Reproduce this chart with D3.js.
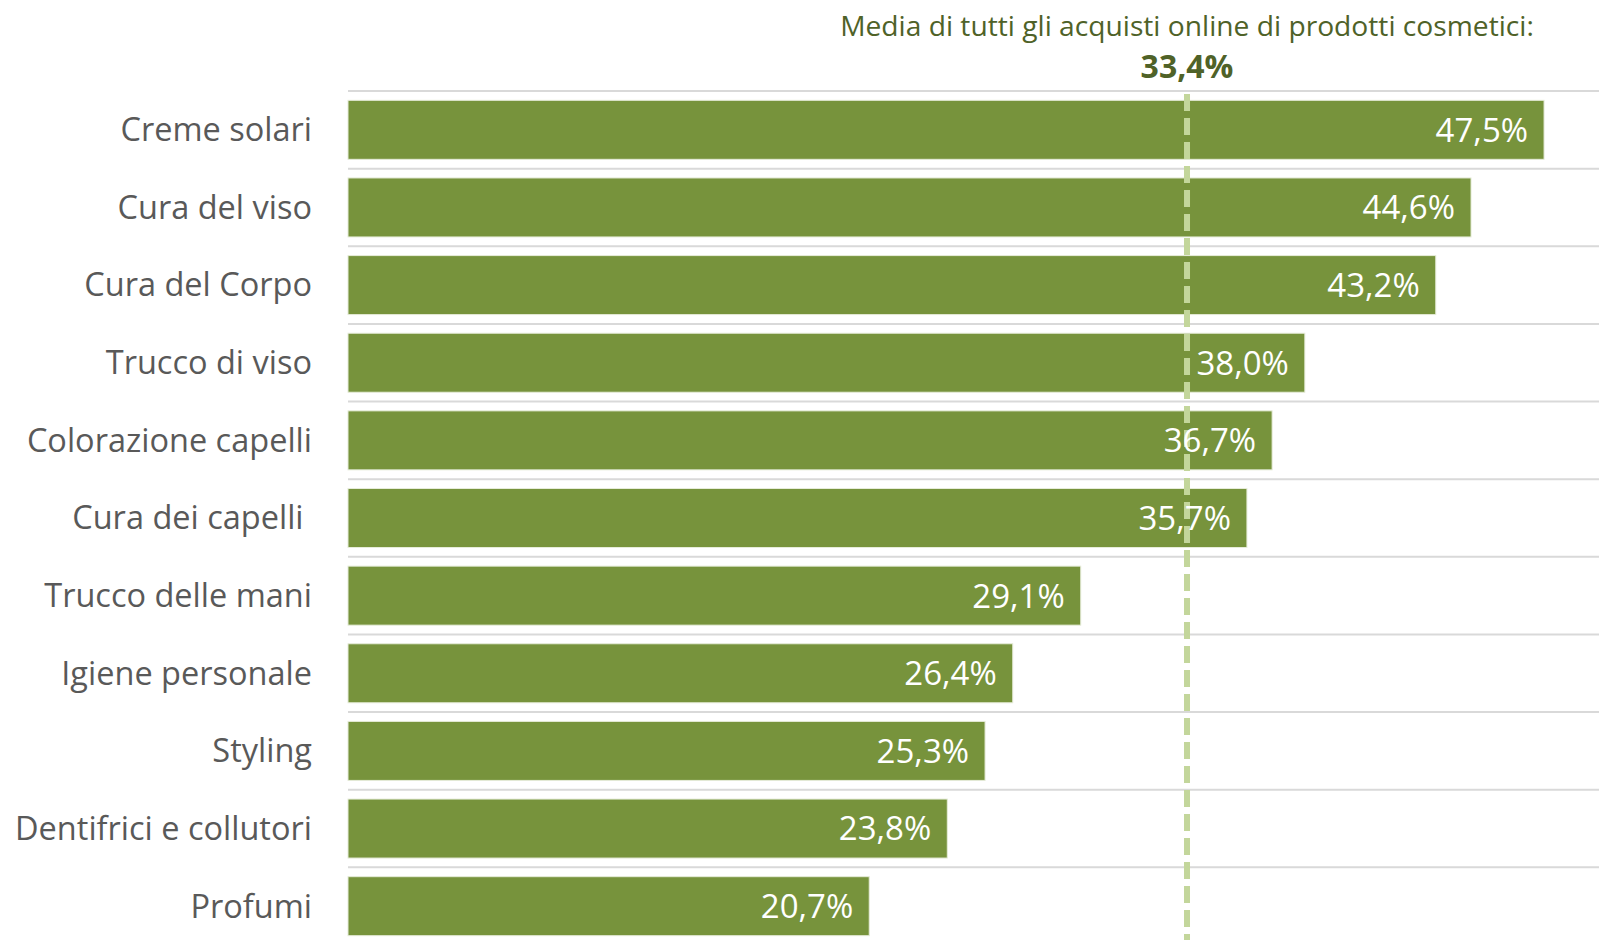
<!DOCTYPE html>
<html>
<head>
<meta charset="utf-8">
<script src="https://cdn.jsdelivr.net/npm/d3@7"></script>
<style>
  html, body { margin: 0; padding: 0; background: #fff; }
  svg { display: block; }
  text { font-family: "Open Sans", "Noto Sans", sans-serif; white-space: pre; }
</style>
</head>
<body>
<svg id="chart" width="1599" height="940"></svg>
<script>
// Quota di acquisti online per categoria di prodotto cosmetico (%)
const categories = [
  "Creme solari",
  "Cura del viso",
  "Cura del Corpo",
  "Trucco di viso",
  "Colorazione capelli",
  "Cura dei capelli ",
  "Trucco delle mani",
  "Igiene personale",
  "Styling",
  "Dentifrici e collutori",
  "Profumi"
];
const values = [47.5, 44.6, 43.2, 38.0, 36.7, 35.7, 29.1, 26.4, 25.3, 23.8, 20.7];
const averageValue = 33.4;
const averageTitle = "Media di tutti gli acquisti online di prodotti cosmetici:";

const fmt = v => v.toFixed(1).replace(".", ",") + "%";

const width = 1599, height = 940;
const svg = d3.select("#chart");

const x = d3.scaleLinear().domain([0, 50]).range([348, 1607]);
const y = d3.scaleBand()
  .domain(categories)
  .range([91, 945])
  .paddingInner(0.24)
  .paddingOuter(0.12);

const gap = y.step() * y.paddingInner() / 2;

// Horizontal separators between rows
svg.append("g")
  .selectAll("line")
  .data(categories)
  .join("line")
  .attr("x1", x(0))
  .attr("x2", width)
  .attr("y1", d => y(d) - gap)
  .attr("y2", d => y(d) - gap)
  .attr("stroke", "#d9d9d9")
  .attr("stroke-width", 2);

// Bars
svg.append("g")
  .selectAll("rect")
  .data(values)
  .join("rect")
  .attr("x", x(0))
  .attr("y", (d, i) => y(categories[i]))
  .attr("width", d => x(d) - x(0))
  .attr("height", y.bandwidth())
  .attr("fill", "#77933c")
  .attr("stroke", "#e6ecd9")
  .attr("stroke-width", 1);

// Category axis (labels only)
const yAxis = d3.axisLeft(y).tickSize(0).tickPadding(0);
const gy = svg.append("g")
  .attr("transform", `translate(${312},0)`)
  .call(yAxis);
gy.select(".domain").remove();
gy.selectAll("text")
  .attr("font-family", "'Open Sans', sans-serif")
  .attr("font-size", 32.5)
  .attr("fill", "#595959")
  .attr("dy", "0.35em")
  .style("white-space", "pre");

// Average line
svg.append("line")
  .attr("x1", x(averageValue) - 2)
  .attr("x2", x(averageValue) - 2)
  .attr("y1", 94)
  .attr("y2", height)
  .attr("stroke", "#c3d69b")
  .attr("stroke-width", 6)
  .attr("stroke-dasharray", "17 7");

// Value labels inside bars
svg.append("g")
  .selectAll("text")
  .data(values)
  .join("text")
  .attr("x", d => x(d) - 16)
  .attr("y", (d, i) => y(categories[i]) + y.bandwidth() / 2)
  .attr("dy", "0.36em")
  .attr("text-anchor", "end")
  .attr("font-size", 33)
  .attr("fill", "#ffffff")
  .text(d => fmt(d));

// Average annotation
svg.append("text")
  .attr("x", x(averageValue) - 2)
  .attr("y", 36)
  .attr("text-anchor", "middle")
  .attr("font-size", 28.2)
  .attr("fill", "#4f6228")
  .text(averageTitle);

svg.append("text")
  .attr("x", x(averageValue) - 2)
  .attr("y", 78)
  .attr("text-anchor", "middle")
  .attr("font-size", 32)
  .attr("font-weight", "bold")
  .attr("fill", "#4f6228")
  .text(fmt(averageValue));
</script>
</body>
</html>
